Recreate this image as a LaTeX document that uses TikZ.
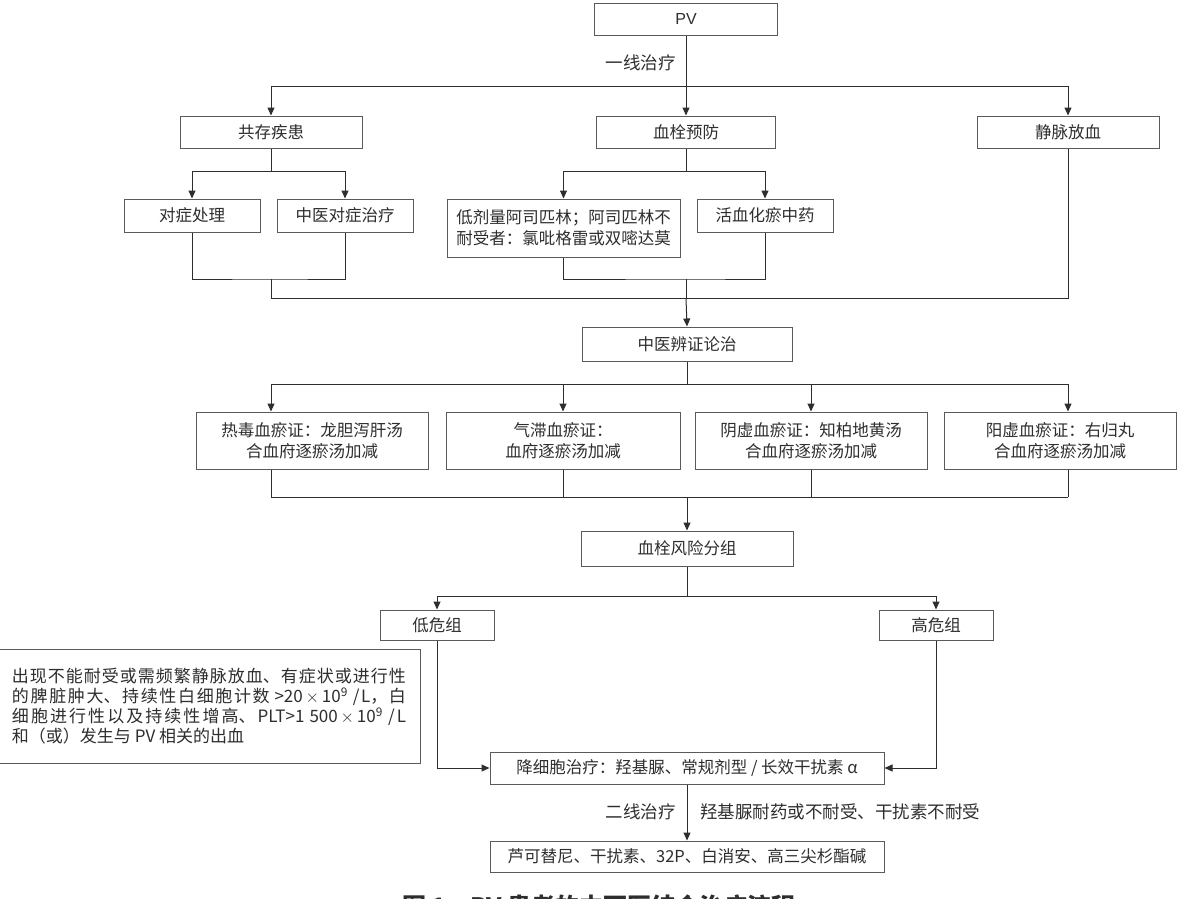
\documentclass[tikz,border=0pt]{standalone}
\usepackage{fontspec}
\setmainfont{Noto Sans CJK SC}
\newfontfamily\latinsf{Liberation Sans}
\usetikzlibrary{arrows.meta,positioning}
\definecolor{ink}{HTML}{2E2E2E}
\definecolor{edge}{HTML}{5A5A5A}
\tikzset{
  blk/.style={rectangle, draw=edge, line width=1pt, fill=white, inner sep=0pt,
              align=center, text=ink, font=\fontsize{16.5}{21}\selectfont},
  note/.style={rectangle, draw=edge, line width=1pt, fill=white, inner sep=0pt,
               text width=394pt, align=justify, text=ink, font=\fontsize{17}{20}\selectfont},
  ln/.style={line width=1pt, draw=ink},
  ar/.style={-{Triangle[length=8pt,width=7pt]}, line width=1pt, draw=ink},
  lbl/.style={inner sep=0pt, text=ink, font=\fontsize{17.5}{20}\selectfont},
  capt/.style={inner sep=0pt, text=ink, font=\bfseries\fontsize{24}{26}\selectfont},
}

\begin{document}
\begin{tikzpicture}[x=1pt, y=-1pt]
\path[use as bounding box, fill=white] (0,0) rectangle (1181,898);

\node[blk, minimum width=183pt, minimum height=32pt, font=\latinsf\fontsize{16}{20}\selectfont] (pv) at (686,19) {PV};
\node[blk, minimum width=182pt, minimum height=32pt] (gongcun) at (271,132) {共存疾患};
\node[blk, minimum width=179pt, minimum height=32pt] (yufang) at (686,132) {血栓预防};
\node[blk, minimum width=182pt, minimum height=32pt] (jingmai) at (1068,132) {静脉放血};
\node[blk, minimum width=136pt, minimum height=33pt] (duizheng) at (192,215.5) {对症处理};
\node[blk, minimum width=136pt, minimum height=33pt] (zydz) at (345,215.5) {中医对症治疗};
\node[blk, minimum width=233pt, minimum height=58pt] (diji) at (563.5,228) {低剂量阿司匹林；阿司匹林不\\耐受者：氯吡格雷或双嘧达莫};
\node[blk, minimum width=136pt, minimum height=33pt] (huoxue) at (765,215.5) {活血化瘀中药};
\node[blk, minimum width=210pt, minimum height=34pt] (bz) at (687,344) {中医辨证论治};
\node[blk, minimum width=232pt, minimum height=57pt] (redu) at (312,440.5) {热毒血瘀证：龙胆泻肝汤\\合血府逐瘀汤加减};
\node[blk, minimum width=234pt, minimum height=57pt] (qizhi) at (563,440.5) {气滞血瘀证：\\血府逐瘀汤加减};
\node[blk, minimum width=232pt, minimum height=57pt] (yinxu) at (811,440.5) {阴虚血瘀证：知柏地黄汤\\合血府逐瘀汤加减};
\node[blk, minimum width=232pt, minimum height=57pt] (yangxu) at (1060,440.5) {阳虚血瘀证：右归丸\\合血府逐瘀汤加减};
\node[blk, minimum width=212pt, minimum height=35pt] (fxfz) at (687,548.5) {血栓风险分组};
\node[blk, minimum width=114pt, minimum height=30pt] (diwei) at (437,625) {低危组};
\node[blk, minimum width=114pt, minimum height=30pt] (gaowei) at (936,625) {高危组};
\node[blk, minimum width=394pt, minimum height=32pt] (jxb) at (687,768) {降细胞治疗：羟基脲、常规剂型 / 长效干扰素 α};
\node[blk, minimum width=394pt, minimum height=31pt] (erxian) at (687,856.5) {芦可替尼、干扰素、32P、白消安、高三尖杉酯碱};
\node[note, minimum width=422pt, minimum height=114pt] (cond) at (209,706) {\XeTeXlinebreaklocale "zh"\XeTeXlinebreakskip=0pt plus 3pt
  出现不能耐受或需频繁静脉放血、有症状或进行性\linebreak
  的脾脏肿大、持续性白细胞计数 >20\,$\times$\,10\textsuperscript{9} /L，白\linebreak
  细胞进行性以及持续性增高、PLT>1 500\,$\times$\,10\textsuperscript{9} /L\linebreak
  和（或）发生与 PV 相关的出血};

\node[lbl, anchor=east] (yixian) at (676,63) {一线治疗};
\node[lbl, anchor=east] (erxl) at (676,812) {二线治疗};
\node[lbl, anchor=west] (naiyao) at (700,812) {羟基脲耐药或不耐受、干扰素不耐受};
\node[capt, anchor=base west] (caption) at (402,915) {图 1\quad PV 患者的中西医结合治疗流程};

\coordinate (j1) at (686,86);
\coordinate (j2) at (271,171);
\coordinate (j3) at (271,279);
\coordinate (j4) at (686,279);
\coordinate (j5) at (686,298);
\coordinate (j6) at (686,171);
\coordinate (j8) at (687,497);
\coordinate (j9) at (687,596);

\draw[ln] (pv.south) -- (j1);
\draw[ln] (gongcun.north |- j1) -- (jingmai.north |- j1);
\foreach \n in {gongcun,yufang,jingmai} \draw[ar] (\n.north |- j1) -- (\n.north);

\draw[ln] (gongcun.south) -- (j2);
\draw[ln] (duizheng.north |- j2) -- (zydz.north |- j2);
\foreach \n in {duizheng,zydz} \draw[ar] (\n.north |- j2) -- (\n.north);
\draw[ln] (duizheng.south) |- (j3) -| (zydz.south);

\draw[ln] (yufang.south) -- (j6);
\draw[ln] (diji.north |- j6) -- (huoxue.north |- j6);
\foreach \n in {diji,huoxue} \draw[ar] (\n.north |- j6) -- (\n.north);
\draw[ln] (diji.south) |- (j4) -| (huoxue.south);

\draw[ln] (j3) -- (j3 |- j5) -- (jingmai.south |- j5) -- (jingmai.south);
\draw[ln] (j4) -- (j5);
\draw[ar] (j5) -- (bz.north);

\foreach \x/\n in {271/redu,563/qizhi,811/yinxu,1068/yangxu} {
  \coordinate (tp\n) at (\x,384);
  \coordinate (bt\n) at (\x,497);
  \draw[ar] (tp\n) -- (tp\n |- \n.north);
  \draw[ln] (tp\n |- \n.south) -- (bt\n);
}
\draw[ln] (bz.south) -- (bz.south |- tpredu);
\draw[ln] (tpredu) -- (tpyangxu);
\draw[ln] (btredu) -- (btyangxu);
\draw[ar] (j8) -- (fxfz.north);

\draw[ln] (fxfz.south) -- (j9);
\draw[ln] (diwei.north |- j9) -- (gaowei.north |- j9);
\foreach \n in {diwei,gaowei} \draw[ar] (\n.north |- j9) -- (\n.north);
\draw[ar] (diwei.south) |- (jxb.west);
\draw[ar] (gaowei.south) |- (jxb.east);
\draw[ar] (jxb.south) -- (erxian.north);
\end{tikzpicture}
\end{document}
